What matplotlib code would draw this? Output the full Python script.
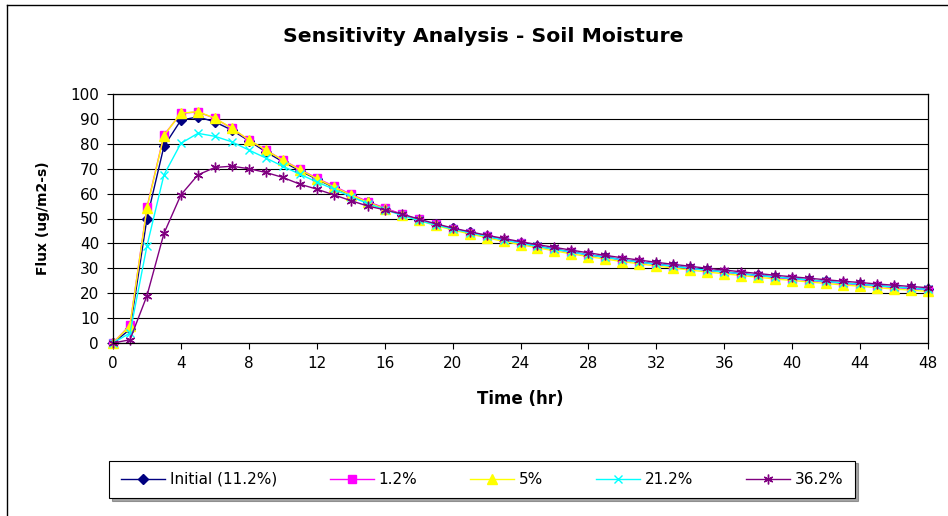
import matplotlib
matplotlib.use("Agg")
import matplotlib.pyplot as plt
from matplotlib.lines import Line2D

# time axis (hr) and flux values
hours = list(range(49))

initial = [0, 5.5, 50, 79, 89.5, 90.8, 88.8, 85.5, 81.2, 76.8, 72.8, 69.2, 65.8, 62.5, 59.5,
           56.5, 54.0, 51.6, 49.5, 47.6, 46.0,
           44.4, 42.9, 41.5, 40.2, 38.9, 37.7, 36.6, 35.5, 34.5, 33.5, 32.6, 31.7, 30.9, 30.1,
           29.3, 28.6, 27.9, 27.2, 26.5, 25.9, 25.3, 24.7, 24.1, 23.6, 23.0, 22.5, 22.0, 21.5]
pct_1_2 = [0, 7.2, 54.5, 83.5, 92.2, 92.8, 90.2, 86.2, 81.5, 77.5, 73.5, 69.8, 66.2, 63.0, 59.8,
           56.8, 54.2, 51.8, 49.6, 47.6, 45.9,
           44.3, 42.8, 41.4, 40.0, 38.7, 37.5, 36.4, 35.3, 34.3, 33.3, 32.4, 31.5, 30.7, 29.9,
           29.1, 28.4, 27.7, 27.0, 26.3, 25.7, 25.1, 24.5, 23.9, 23.4, 22.8, 22.3, 21.8, 21.3]
pct_5 = [0, 7.0, 54.2, 83.3, 92.3, 92.9, 90.3, 86.3, 81.6, 77.5, 73.4, 69.6, 66.0, 62.7, 59.5,
         56.5, 53.9, 51.4, 49.2, 47.2, 45.4,
         43.8, 42.3, 40.8, 39.5, 38.2, 37.0, 35.8, 34.7, 33.7, 32.7, 31.8, 30.9, 30.1, 29.3,
         28.5, 27.8, 27.1, 26.4, 25.7, 25.1, 24.5, 23.9, 23.3, 22.8, 22.2, 21.7, 21.2, 20.7]
pct_21_2 = [0, 4.0, 39, 67.5, 80.2, 84.2, 83.0, 80.8, 77.5, 74.3, 71.0, 67.8, 64.7, 61.8, 58.8,
            56.0, 53.6, 51.3, 49.2, 47.4, 45.8,
            44.3, 42.8, 41.4, 40.1, 38.8, 37.6, 36.5, 35.4, 34.4, 33.4, 32.5, 31.6, 30.8, 30.0,
            29.2, 28.5, 27.8, 27.1, 26.5, 25.9, 25.3, 24.7, 24.1, 23.6, 23.0, 22.5, 22.0, 21.5]
pct_36_2 = [0, 1.3, 19, 44, 59.5, 67.5, 70.5, 71.0, 70.0, 68.5, 66.5, 63.8, 61.8, 59.5, 57.2,
            55.0, 53.5, 51.8, 49.8, 47.9, 46.2,
            44.7, 43.3, 42.0, 40.7, 39.5, 38.4, 37.3, 36.2, 35.2, 34.2, 33.3, 32.4, 31.6, 30.8,
            30.0, 29.3, 28.6, 27.9, 27.2, 26.6, 26.0, 25.4, 24.8, 24.3, 23.7, 23.2, 22.7, 22.2]

series = [
    ("Initial (11.2%)", initial, "#000080", "D", 5),
    ("1.2%", pct_1_2, "#FF00FF", "s", 5.5),
    ("5%", pct_5, "#FFFF00", "^", 6.5),
    ("21.2%", pct_21_2, "#00FFFF", "x", 6),
    ("36.2%", pct_36_2, "#800080", (6, 2, 0), 7),
]

plt.rcParams['font.family'] = ['DejaVu Sans']

fig = plt.figure(figsize=(9.48, 5.16), dpi=100)
ax = fig.add_axes([113 / 948, 1 - 343 / 516, 815 / 948, 249 / 516])

for name, vals, col, mk, ms in series:
    ax.plot(hours, vals, color=col, marker=mk, markersize=ms, linewidth=1,
            markeredgewidth=1, label=name, clip_on=False)

ax.set_xlim(0, 48)
ax.set_ylim(0, 100)
ax.set_xticks(range(0, 49, 4))
ax.set_yticks(range(0, 101, 10))
ax.yaxis.grid(True, color="black", linewidth=0.8)
ax.set_axisbelow(True)
ax.tick_params(direction="out", length=4, width=0.8, labelsize=11, color="black")
ax.tick_params(axis="x", pad=5)
ax.tick_params(axis="y", pad=6)
for s in ax.spines.values():
    s.set_linewidth(0.9)
    s.set_color("black")

ax.set_xlabel("Time (hr)", fontsize=12, fontweight="bold")
ax.set_ylabel("Flux (ug/m2-s)", fontsize=10, fontweight="bold")
ax.xaxis.label.set_va("center")
ax.xaxis.set_label_coords(0.5, -0.225)
ax.yaxis.label.set_va("center")
ax.yaxis.set_label_coords(-0.086, 0.5)

fig.text(483 / 948, 1 - 37 / 516, "Sensitivity Analysis - Soil Moisture",
         ha="center", va="center", fontsize=14.7, fontweight="bold")

leg = fig.legend(loc="center", bbox_to_anchor=(482 / 948, 1 - 479.5 / 516), ncol=5,
                 fontsize=11, frameon=True, fancybox=False, shadow=True,
                 handlelength=2.9, handletextpad=0.3, columnspacing=3.45,
                 borderpad=0.75)
leg.get_frame().set_edgecolor("black")
leg.get_frame().set_linewidth(0.8)

# outer chart border (left and top only visible in the original)
fig.add_artist(Line2D([7 / 948, 7 / 948], [0, 1 - 5 / 516], color="black", linewidth=1,
                      transform=fig.transFigure))
fig.add_artist(Line2D([7 / 948, 1], [1 - 5 / 516, 1 - 5 / 516], color="black", linewidth=1,
                      transform=fig.transFigure))

fig.savefig("out.png", dpi=100)
